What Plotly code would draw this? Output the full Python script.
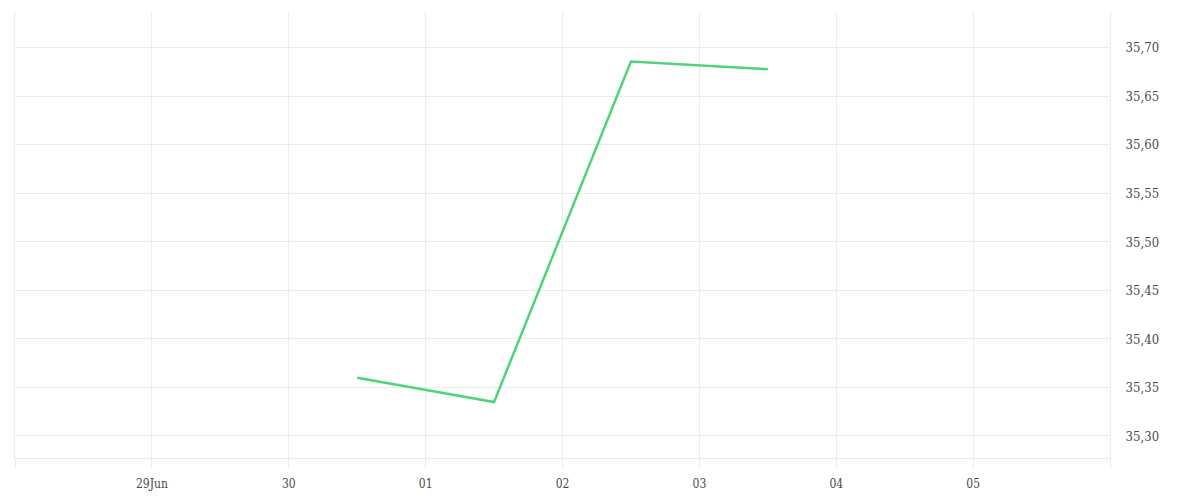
import plotly.graph_objects as go

# daily points, plotted at midday
dates = ["2023-06-30 12:00", "2023-07-01 12:00", "2023-07-02 12:00", "2023-07-03 12:00"]
values = [35.360, 35.335, 35.686, 35.678]

tick_dates = ["2023-06-28", "2023-06-29", "2023-06-30", "2023-07-01", "2023-07-02",
              "2023-07-03", "2023-07-04", "2023-07-05", "2023-07-06"]
tick_labels = ["", "29Jun", "30", "01", "02", "03", "04", "05", ""]

LINE_COLOR = "#4fd47b"
GRID_COLOR = "#ececec"

fig = go.Figure()
fig.add_trace(go.Scatter(x=dates, y=values, mode="lines",
                         line=dict(color=LINE_COLOR, width=2.5),
                         showlegend=False))

fig.update_layout(
    width=1200, height=500,
    margin=dict(l=7, r=98, t=4, b=50),
    paper_bgcolor="white", plot_bgcolor="white",
    separators=",.",
    font=dict(family="DejaVu Serif Condensed, DejaVu Serif", size=12, color="#4a4a4a"),
)
fig.update_xaxes(
    type="date", range=["2023-06-28", "2023-07-06"],
    tickvals=tick_dates, ticktext=tick_labels,
    showgrid=True, gridcolor=GRID_COLOR, gridwidth=1,
    showline=True, linecolor=GRID_COLOR, linewidth=1,
    ticks="outside", ticklen=10, tickcolor=GRID_COLOR, tickwidth=1,
    ticklabelstandoff=5,
    zeroline=False, tickfont=dict(size=12),
)
fig.update_yaxes(
    side="right", range=[35.2773, 35.737],
    dtick=0.05, tick0=35.3, tickformat=".2f",
    showgrid=True, gridcolor=GRID_COLOR, gridwidth=1,
    showline=True, mirror=True, linecolor=GRID_COLOR, linewidth=1,
    ticklabelstandoff=12,
    zeroline=False, ticks="", tickfont=dict(size=13),
)

fig.write_html("out.html")
